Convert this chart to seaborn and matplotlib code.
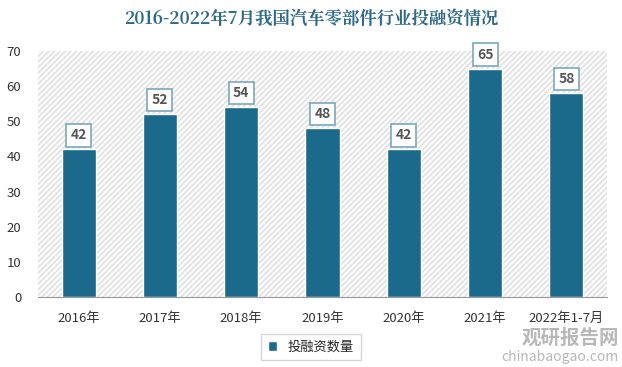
import pandas as pd
import numpy as np
import seaborn as sns
import matplotlib.pyplot as plt
from matplotlib.patches import Rectangle

# %% data

years = ['2016年', '2017年', '2018年', '2019年', '2020年', '2021年', '2022年1-7月']
deals = [42, 52, 54, 48, 42, 65, 58]
series_name = '投融资数量'

df = pd.DataFrame({'year': years, 'deals': deals})

# %% style

sns.set_style("white")
plt.rcParams['font.family'] = ['Noto Sans CJK SC', 'DejaVu Sans']

bar_color = '#1b6a8c'
title_color = '#2c6a88'

fig = plt.figure(figsize=(6.22, 3.67), dpi=100)
ax = fig.add_axes([0.061, 0.191, 0.915, 0.670])

# hatched backdrop
ax.add_patch(Rectangle((0, 0), 1, 1, transform=ax.transAxes, facecolor='#fbfbfb',
                       edgecolor='#dedede', hatch='//////', linewidth=0, zorder=0))

sns.barplot(data=df, x='year', y='deals', color=bar_color, width=0.42,
            saturation=1, ax=ax, label=series_name, zorder=2)

for p, v in zip(ax.patches[1:], deals):
    ax.annotate(str(v), (p.get_x() + p.get_width() / 2, v + 2.0),
                ha='center', va='bottom', fontsize=10, fontweight='bold', color='#555555',
                bbox=dict(boxstyle='square,pad=0.3', facecolor='white',
                          edgecolor='#7aa8bd', linewidth=1.2), zorder=3)

ax.set_ylim(0, 70)
ax.set_yticks(range(0, 71, 10))
ax.set_xlim(-0.5, len(years) - 0.5)
ax.set_xlabel('')
ax.set_ylabel('')
ax.tick_params(axis='both', labelsize=9.5, length=0, colors='#333333')
ax.tick_params(axis='x', pad=11)
ax.tick_params(axis='y', pad=12)
for s in ['top', 'right', 'left']:
    ax.spines[s].set_visible(False)
ax.spines['bottom'].set_color('#999999')

fig.suptitle('2016-2022年7月我国汽车零部件行业投融资情况', x=0.5, y=0.975,
             fontsize=12.5, fontweight='bold', color=title_color,
             family=['Noto Serif CJK SC', 'Noto Sans CJK SC', 'DejaVu Sans'])

handles, labels = ax.get_legend_handles_labels()
if ax.legend_:
    ax.legend_.remove()
leg = fig.legend(handles, labels, loc='center', bbox_to_anchor=(0.5, 0.054),
                 frameon=True, fontsize=9.5, handlelength=0.7, handleheight=0.7,
                 fancybox=False, borderpad=0.5)
leg.get_frame().set_edgecolor('#cccccc')

# watermark
fig.text(0.995, 0.078, '观研报告网', ha='right', va='center', fontsize=14,
         fontweight='bold', color='#b8b8b8')
fig.text(0.995, 0.028, 'chinabaogao.com', ha='right', va='center', fontsize=10,
         color='#b8b8b8')

fig.savefig('out.png', dpi=100)
